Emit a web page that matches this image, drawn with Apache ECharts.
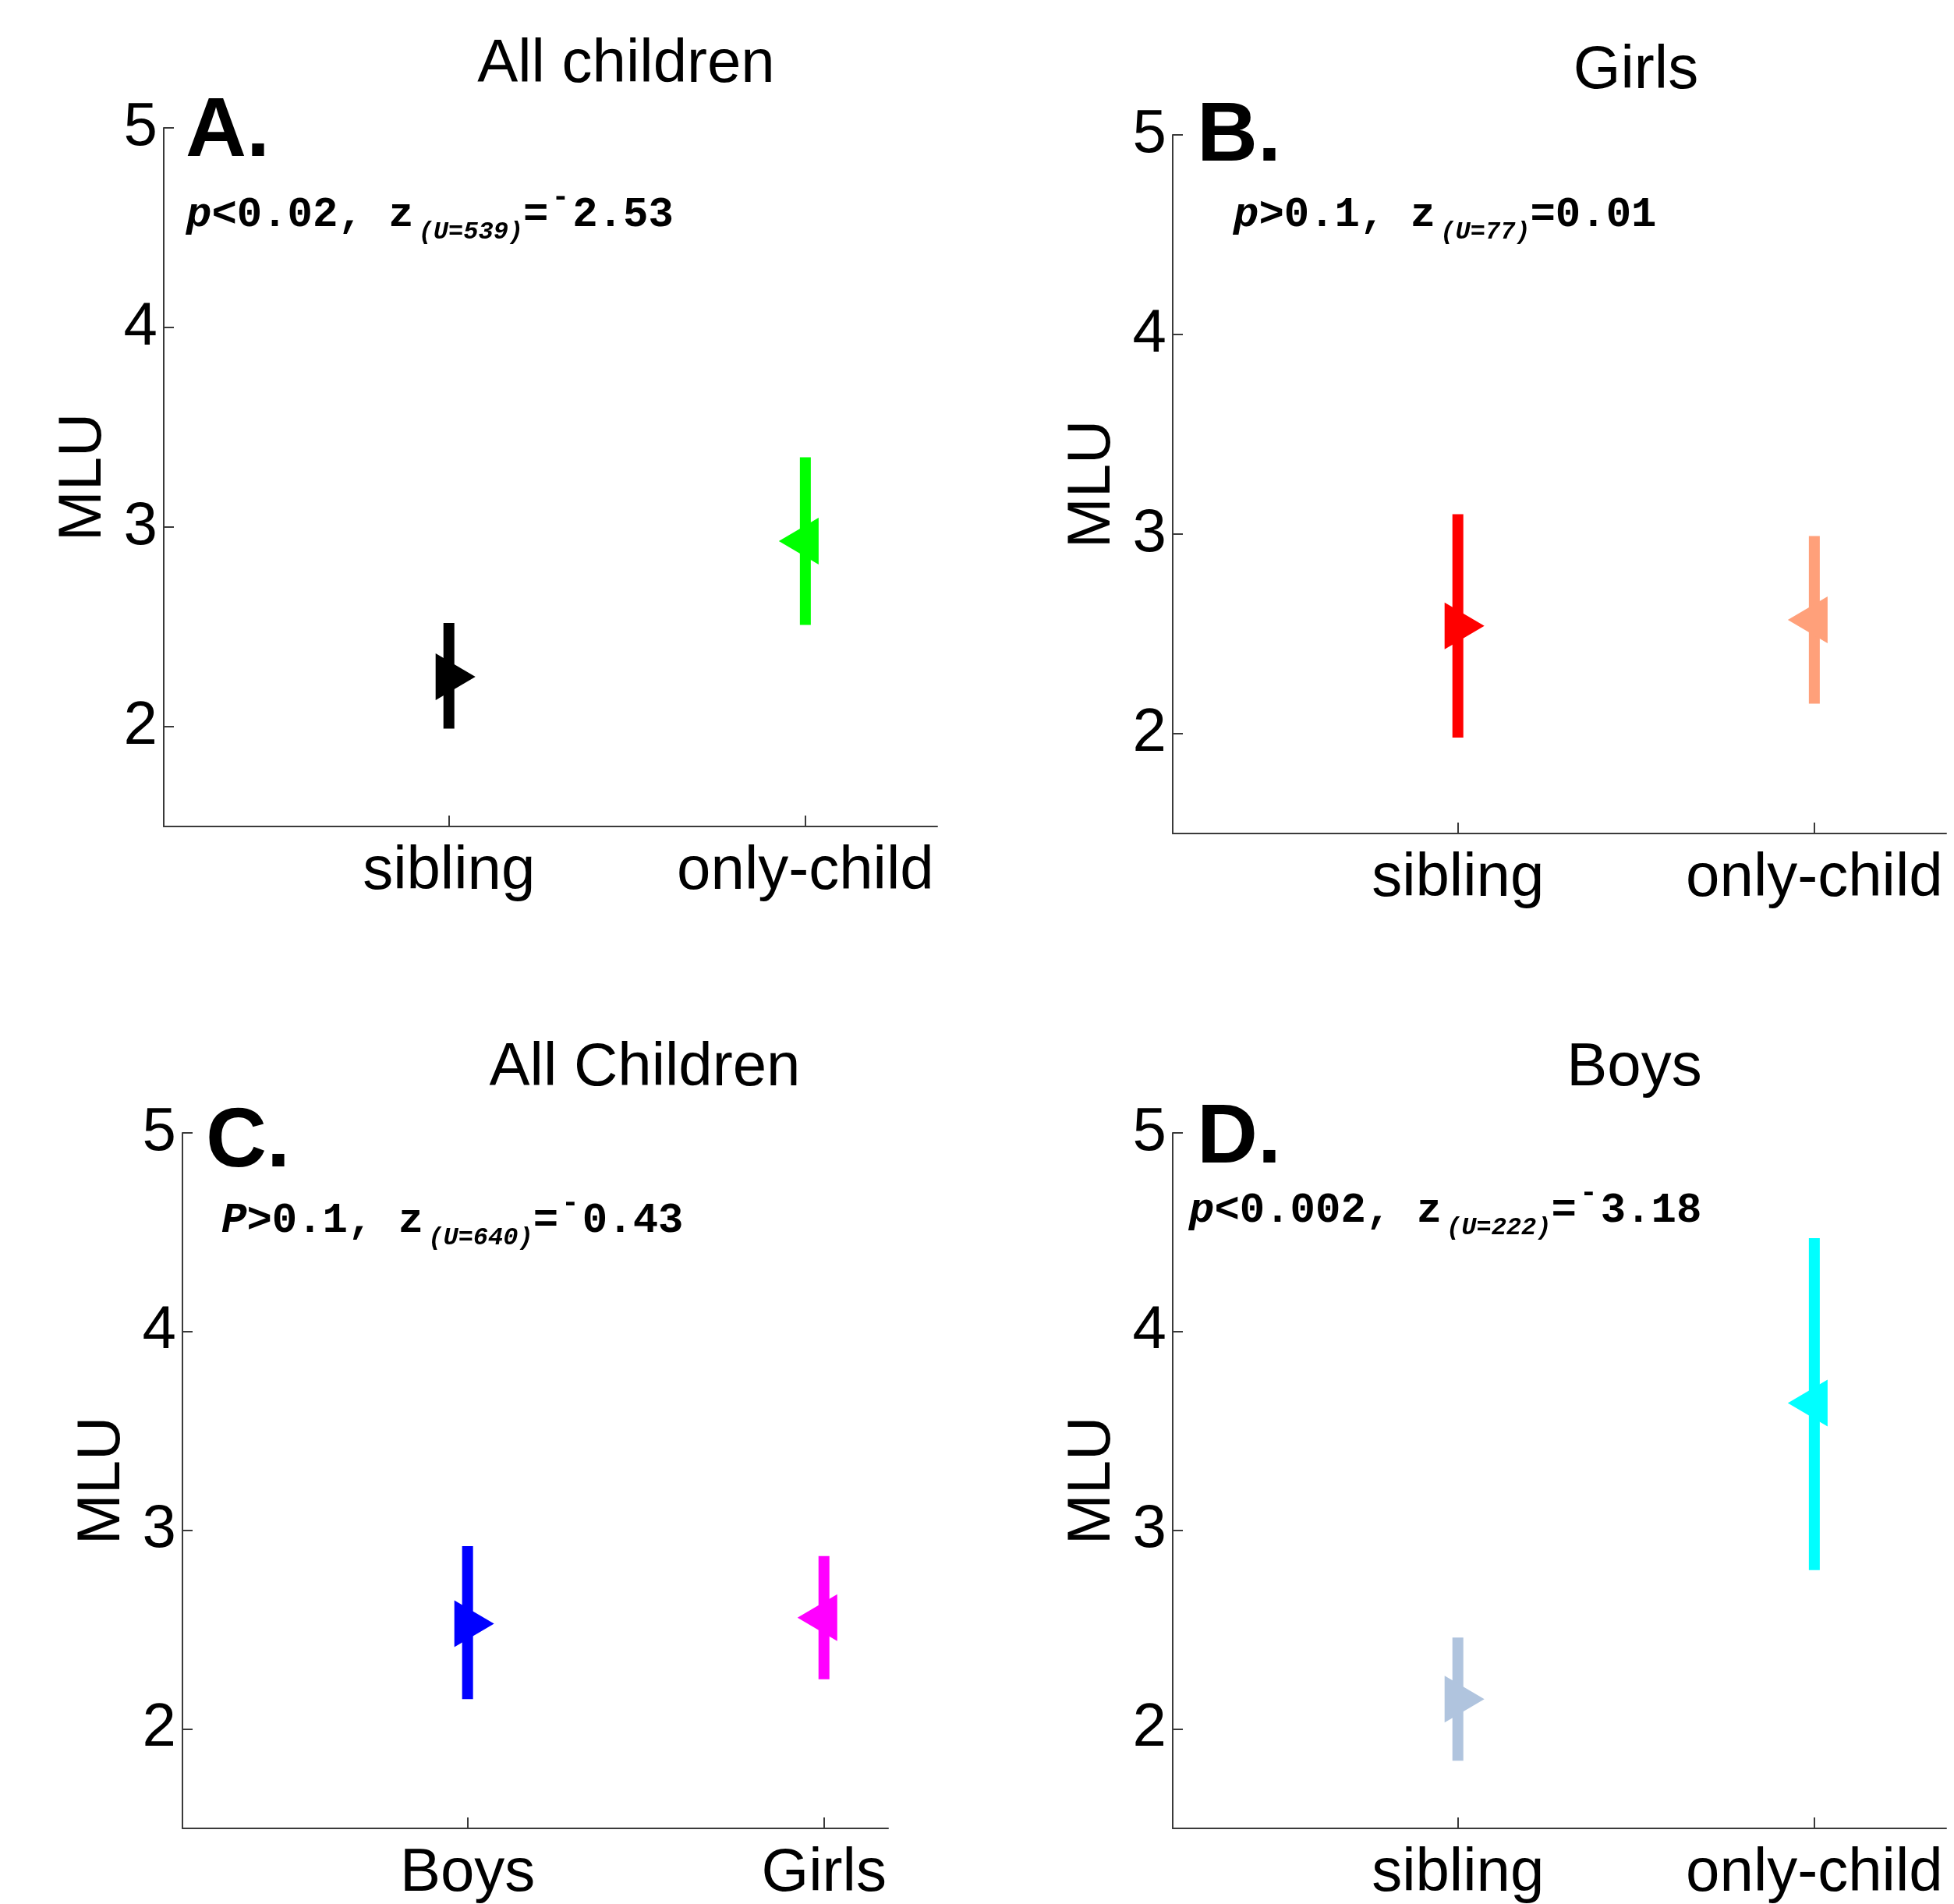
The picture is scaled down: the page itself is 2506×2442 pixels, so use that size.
<!DOCTYPE html>
<html><head><meta charset="utf-8">
<script src="https://cdn.jsdelivr.net/npm/echarts@6/dist/echarts.min.js"></script>
<style>html,body{margin:0;padding:0;background:#fff}#c{width:2506px;height:2442px}</style>
</head><body><div id="c"></div>
<script>
// ---- data ----
const panelTitles = ['All children', 'Girls', 'All Children', 'Boys'];
const panelLetters = ['A.', 'B.', 'C.', 'D.'];
const catsA = ['sibling', 'only-child'];
const catsB = ['sibling', 'only-child'];
const catsC = ['Boys', 'Girls'];
const catsD = ['sibling', 'only-child'];
const meanA = [2.25, 2.93], lowA = [1.99, 2.51], highA = [2.52, 3.35];
const meanB = [2.54, 2.57], lowB = [1.98, 2.15], highB = [3.10, 2.99];
const meanC = [2.53, 2.56], lowC = [2.15, 2.25], highC = [2.92, 2.87];
const meanD = [2.15, 3.64], lowD = [1.84, 2.80], highD = [2.46, 4.47];
const colorsA = ['#000000', '#00ff00'];
const colorsB = ['#ff0000', '#ffa07a'];
const colorsC = ['#0000ff', '#ff00ff'];
const colorsD = ['#b0c4de', '#00ffff'];
const yTicks = [2, 3, 4, 5];
const xTicks = [1, 2];
const statP = ['p', 'p', 'P', 'p'];
const statRel = ['<0.02, ', '>0.1, ', '>0.1, ', '<0.002, '];
const statU = ['(U=539)', '(U=77)', '(U=640)', '(U=222)'];
const statSign = ['-', '', '-', '-'];
const statZ = ['2.53', '0.01', '0.43', '3.18'];

// ---- layout ----
const sans = 'Liberation Sans, Arial, sans-serif';
const mono = 'Liberation Mono, Courier New, monospace';
const grids = [
  {left: 210, top: 164, width: 992, height: 896},
  {left: 1504, top: 173, width: 992, height: 896},
  {left: 234, top: 1453, width: 905, height: 896},
  {left: 1504, top: 1453, width: 992, height: 896}
];
const xMax = [2.37, 2.37, 2.18, 2.37];
const titlePos = [[803, 83], [2098, 91], [827, 1370], [2096, 1370]];
const letterPos = [[238, 170], [1535, 176], [264, 1466], [1535, 1461]];
const statPos = [[239, 276], [1582, 276], [284, 1566], [1525, 1553]];
const cats = [catsA, catsB, catsC, catsD];
const means = [meanA, meanB, meanC, meanD];
const lows = [lowA, lowB, lowC, lowD];
const highs = [highA, highB, highC, highD];
const colors = [colorsA, colorsB, colorsC, colorsD];

const axisLineStyle = {color: '#3a3a3a', width: 2};

function makeRender(cols) {
  return function (params, api) {
    const x = api.value(0), m = api.value(1), lo = api.value(2), hi = api.value(3);
    const dir = params.dataIndex === 0 ? 1 : -1;
    const pc = api.coord([x, m]), pl = api.coord([x, lo]), ph = api.coord([x, hi]);
    const color = cols[params.dataIndex];
    const bw = 14;
    return {type: 'group', children: [
      {type: 'rect', shape: {x: pc[0] - bw / 2, y: ph[1], width: bw, height: pl[1] - ph[1]}, style: {fill: color}},
      {type: 'polygon', shape: {points: [[pc[0] - 17 * dir, pc[1] - 30], [pc[0] - 17 * dir, pc[1] + 30], [pc[0] + 34 * dir, pc[1]]]}, style: {fill: color}}
    ]};
  };
}

const xAxis = [], yAxis = [], series = [], graphic = [];
const rich = {
  p: {fontFamily: mono, fontSize: 54, fontWeight: 'bold', fontStyle: 'italic', fill: '#000'},
  n: {fontFamily: mono, fontSize: 54, fontWeight: 'bold', fill: '#000'},
  s: {fontFamily: mono, fontSize: 32, fontWeight: 'bold', fontStyle: 'italic', fill: '#000', padding: [44, 0, 0, 6]},
  m: {fontFamily: mono, fontSize: 38, fontWeight: 'bold', fill: '#000', padding: [0, 4, 44, 4]}
};
for (let i = 0; i < 4; i++) {
  const c = cats[i];
  xAxis.push({
    type: 'value', gridIndex: i, min: 0.2, max: xMax[i],
    axisLine: {show: true, onZero: false, lineStyle: axisLineStyle},
    axisTick: {show: true, inside: true, length: 14, customValues: xTicks, lineStyle: axisLineStyle},
    axisLabel: {show: true, customValues: xTicks, margin: 19, color: '#000', fontFamily: sans, fontSize: 78,
      formatter: v => c[Math.round(v) - 1] || ''},
    splitLine: {show: false}
  });
  yAxis.push({
    type: 'value', gridIndex: i, min: 1.5, max: 5,
    name: 'MLU', nameLocation: 'middle', nameGap: 64, nameRotate: 90,
    nameTextStyle: {color: '#000', fontFamily: sans, fontSize: 78},
    axisLine: {show: true, onZero: false, lineStyle: axisLineStyle},
    axisTick: {show: true, inside: true, length: 13, customValues: yTicks, lineStyle: axisLineStyle},
    axisLabel: {show: true, customValues: yTicks, margin: 8, color: '#000', fontFamily: sans, fontSize: 78},
    splitLine: {show: false}
  });
  series.push({
    type: 'custom', xAxisIndex: i, yAxisIndex: i,
    renderItem: makeRender(colors[i]),
    data: xTicks.map((x, k) => [x, means[i][k], lows[i][k], highs[i][k]]),
    encode: {x: 0, y: [1, 2, 3]},
    clip: false, silent: true
  });
  graphic.push({type: 'text', x: titlePos[i][0], y: titlePos[i][1],
    style: {text: panelTitles[i], fontFamily: sans, fontSize: 78, fill: '#000', align: 'center', verticalAlign: 'middle'}});
  graphic.push({type: 'text', x: letterPos[i][0], y: letterPos[i][1],
    style: {text: panelLetters[i], fontFamily: sans, fontSize: 108, fontWeight: 'bold', fill: '#000', align: 'left', verticalAlign: 'middle'}});
  const txt = '{p|' + statP[i] + '}{n|' + statRel[i] + 'z}{s|' + statU[i] + '}{n|=}' +
    (statSign[i] ? '{m|' + statSign[i] + '}' : '') + '{n|' + statZ[i] + '}';
  graphic.push({type: 'text', x: statPos[i][0], y: statPos[i][1],
    style: {text: txt, rich: rich, fontFamily: mono, fontSize: 54, fill: '#000', align: 'left', verticalAlign: 'middle'}});
}

const chart = echarts.init(document.getElementById('c'), null, {renderer: 'canvas'});
chart.setOption({
  backgroundColor: '#ffffff',
  animation: false,
  grid: grids,
  xAxis: xAxis,
  yAxis: yAxis,
  series: series,
  graphic: graphic
});
</script>
</body></html>
